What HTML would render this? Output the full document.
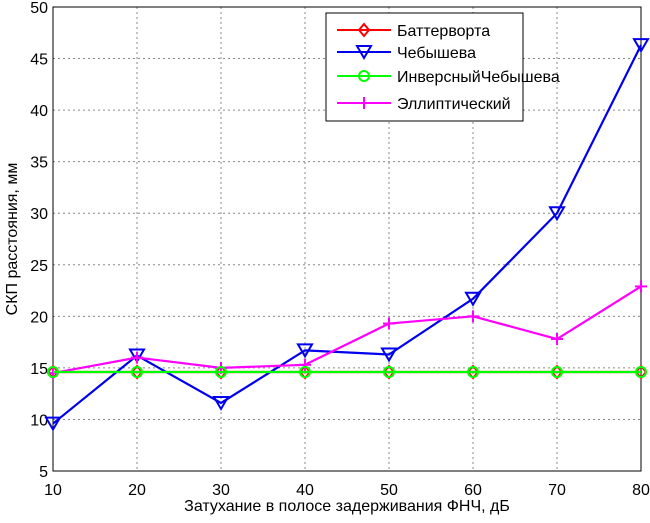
<!DOCTYPE html>
<html><head><meta charset="utf-8"><style>
body{margin:0;background:#fff}
svg text{font-family:"Liberation Sans",sans-serif;fill:#000}
</style></head><body>
<svg width="650" height="518" xmlns="http://www.w3.org/2000/svg">
<g id="axes"></g><g id="series"></g><g id="legend"></g>
</svg>
<script>
const categories=[10,20,30,40,50,60,70,80];
const butter=[14.6,14.6,14.6,14.6,14.6,14.6,14.6,14.6];
const cheb=[9.6,16.2,11.6,16.7,16.3,21.7,30,46.3];
const invCheb=[14.6,14.6,14.6,14.6,14.6,14.6,14.6,14.6];
const ellip=[14.5,16,15,15.3,19.3,20,17.8,22.9];
const yTicks=[5,10,15,20,25,30,35,40,45,50];
const xTicks=[10,20,30,40,50,60,70,80];
const L=53,R=641,T=7,B=471;
const X=v=>L+(v-10)/70*(R-L);
const Y=v=>B-(v-5)/45*(B-T);
const NS="http://www.w3.org/2000/svg";
function mk(tag,attrs,parent,txt){const e=document.createElementNS(NS,tag);for(const k in attrs)e.setAttribute(k,attrs[k]);if(txt!==undefined)e.textContent=txt;parent.appendChild(e);return e;}
const axes=document.getElementById('axes'),series=document.getElementById('series'),leg=document.getElementById('legend');
mk('rect',{x:L,y:T,width:R-L,height:B-T,fill:'#fff',stroke:'none'},axes);
xTicks.forEach(v=>{
 const l=mk('line',{x1:X(v),x2:X(v),y1:T,y2:B,stroke:'#888','stroke-dasharray':'2,3','stroke-width':1},axes);
 
 const t=mk('text',{x:X(v),y:B+24,'text-anchor':'middle','font-size':16},axes,String(v));
 
});
yTicks.forEach(v=>{
 const l=mk('line',{x1:L,x2:R,y1:Y(v),y2:Y(v),stroke:'#888','stroke-dasharray':'2,3','stroke-width':1},axes);
 
 const t=mk('text',{x:L-5,y:Y(v)+6,'text-anchor':'end','font-size':16},axes,String(v));
 
});
const frame=mk('rect',{x:L,y:T,width:R-L,height:B-T,fill:'none',stroke:'#000','stroke-width':1},axes);

let xt=mk('text',{x:(L+R)/2,y:511,'text-anchor':'middle','font-size':16},axes,'Затухание в полосе задерживания ФНЧ, дБ');

let yt=mk('text',{x:0,y:0,transform:'translate(17,'+((T+B)/2)+') rotate(-90)','text-anchor':'middle','font-size':16},axes,'СКП расстояния, мм');

function marker(g,type,x,y,c){
 if(type==='d')mk('polygon',{points:`${x},${y-6} ${x+5},${y} ${x},${y+6} ${x-5},${y}`,fill:'none',stroke:c,'stroke-width':2},g);
 else if(type==='v')mk('polygon',{points:`${x-7},${y-6} ${x+7},${y-6} ${x},${y+6}`,fill:'none',stroke:c,'stroke-width':2},g);
 else if(type==='o')mk('circle',{cx:x,cy:y,r:5,fill:'none',stroke:c,'stroke-width':2},g);
 else {mk('line',{x1:x-6,x2:x+6,y1:y,y2:y,stroke:c,'stroke-width':2},g);mk('line',{x1:x,x2:x,y1:y-6,y2:y+6,stroke:c,'stroke-width':2},g);}
}
const defs=[['Баттерворта',butter,'#ff0000','d','series-butterworth'],['Чебышева',cheb,'#0000ee','v','series-chebyshev'],['ИнверсныйЧебышева',invCheb,'#00ff00','o','series-inverse-chebyshev'],['Эллиптический',ellip,'#ff00ff','p','series-elliptic']];
const order=[0,1,3,2];
order.forEach(i=>{const d=defs[i];
 const g=mk('g',{},series);
 
 mk('polyline',{points:d[1].map((v,j)=>X(categories[j])+','+Y(v)).join(' '),fill:'none',stroke:d[2],'stroke-width':2.2},g);
 d[1].forEach((v,j)=>marker(g,d[3],X(categories[j]),Y(v),d[2]));
});
const lb=mk('rect',{x:326,y:13,width:197,height:108,fill:'#fff',stroke:'#000','stroke-width':1},leg);

const ly=[30,52,76,103];
defs.forEach((d,i)=>{
 const g=mk('g',{},leg);
 
 mk('line',{x1:337,x2:391,y1:ly[i],y2:ly[i],stroke:d[2],'stroke-width':2},g);
 marker(g,d[3],364,ly[i],d[2]);
 mk('text',{x:397,y:ly[i]+6,'font-size':16},g,d[0]);
});
</script>
</body></html>
